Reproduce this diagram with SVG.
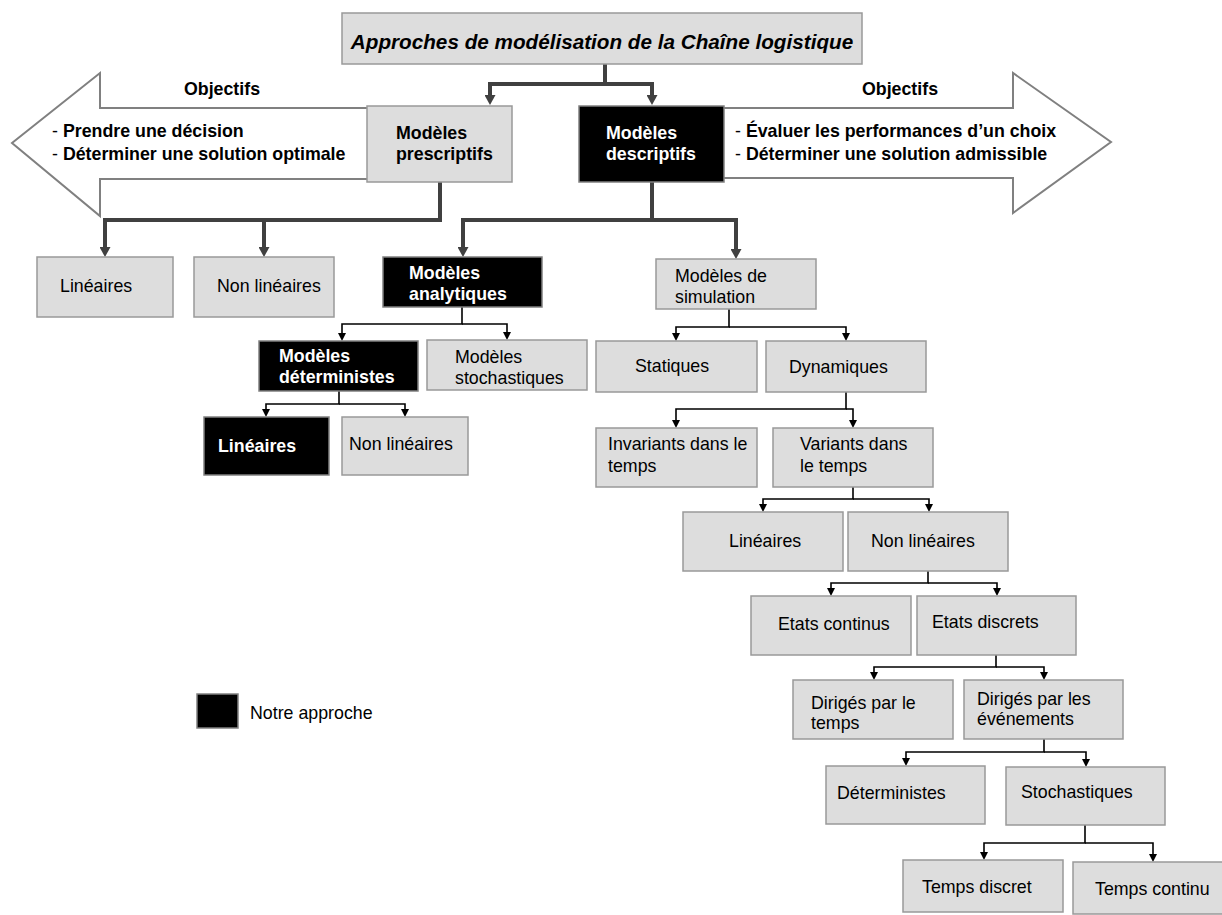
<svg xmlns="http://www.w3.org/2000/svg" width="1222" height="915" viewBox="0 0 1222 915">
<style>
text{font-family:"Liberation Sans",Arial,sans-serif;font-size:17.8px;fill:#000}
.b{font-weight:bold}
.t{font-weight:bold;font-style:italic;font-size:20.7px}
.w{fill:#fff;font-weight:bold}
.g{fill:#dddddd;stroke:#999999;stroke-width:1.5}
.k{fill:#000;stroke:#808080;stroke-width:1.5}
.big{fill:#fff;stroke:#808080;stroke-width:2}
.thick{fill:none;stroke:#404040;stroke-width:4;marker-end:url(#ah)}
.thin{fill:none;stroke:#000;stroke-width:1.6;marker-end:url(#as)}
</style>
<defs>
<marker id="ah" markerUnits="userSpaceOnUse" markerWidth="10" markerHeight="11" refX="0" refY="5" orient="auto" viewBox="0 0 10 10" preserveAspectRatio="none">
<path d="M0,0 L10,5 L0,10 Z" fill="#404040"/>
</marker>
<marker id="as" markerUnits="userSpaceOnUse" markerWidth="8" markerHeight="8" refX="0" refY="5" orient="auto" viewBox="0 0 10 10" preserveAspectRatio="none">
<path d="M0,0 L10,5 L0,10 Z" fill="#000"/>
</marker>
</defs>
<rect width="1222" height="915" fill="#fff"/>

<g id="arrow-left">
<polygon class="big" points="370,108 100,108 100,73 12,143 100,216 100,179 370,179"/>
<text class="b" x="222" y="95" text-anchor="middle">Objectifs</text>
<text x="52" y="137">- <tspan class="b">Prendre une décision</tspan></text>
<text x="52" y="160">- <tspan class="b">Déterminer une solution optimale</tspan></text>
</g>
<g id="arrow-right">
<polygon class="big" points="722,108 1013,108 1013,73 1111,142 1013,213 1013,178 722,178"/>
<text class="b" x="900" y="95" text-anchor="middle">Objectifs</text>
<text x="735" y="137">- <tspan class="b">Évaluer les performances d’un choix</tspan></text>
<text x="735" y="160">- <tspan class="b">Déterminer une solution admissible</tspan></text>
</g>

<g id="connectors">
<path class="thick" d="M605,64 V84 H490 V95"/>
<path class="thick" d="M605,84 H652 V95"/>
<path class="thick" d="M440,182 V220 H105 V247"/>
<path class="thick" d="M264,220 V247"/>
<path class="thick" d="M652,182 V220 H463 V247"/>
<path class="thick" d="M652,220 H736 V249"/>
<path class="thin" d="M462,307 V324 H342 V333"/>
<path class="thin" d="M462,324 H507 V332"/>
<path class="thin" d="M339,391 V404 H266 V409"/>
<path class="thin" d="M339,404 H405 V409"/>
<path class="thin" d="M729,309 V327 H676 V333"/>
<path class="thin" d="M729,327 H846 V333"/>
<path class="thin" d="M846,392 V409 H676 V420"/>
<path class="thin" d="M846,409 H853 V420"/>
<path class="thin" d="M853,487 V499 H763 V504"/>
<path class="thin" d="M853,499 H929 V504"/>
<path class="thin" d="M928,571 V583 H831 V588"/>
<path class="thin" d="M928,583 H997 V588"/>
<path class="thin" d="M996,655 V667 H874 V672"/>
<path class="thin" d="M996,667 H1044 V672"/>
<path class="thin" d="M1044,739 V752 H906 V758"/>
<path class="thin" d="M1044,752 H1086 V759"/>
<path class="thin" d="M1085,825 V843 H984 V852"/>
<path class="thin" d="M1085,843 H1153 V854"/>
</g>

<g id="title"><rect class="g" x="342" y="13" width="520" height="51"/>
<text class="t" x="602" y="49" text-anchor="middle">Approches de modélisation de la Chaîne logistique</text></g>
<g id="prescriptifs"><rect class="g" x="367" y="106" width="145" height="76"/>
<text class="b" x="396" y="139">Modèles</text><text class="b" x="396" y="160">prescriptifs</text></g>
<g id="descriptifs"><rect class="k" x="579" y="106" width="145" height="76"/>
<text class="w" x="606" y="139">Modèles</text><text class="w" x="606" y="160">descriptifs</text></g>
<g id="p-lineaires"><rect class="g" x="37" y="257" width="136" height="60"/><text x="60" y="292">Linéaires</text></g>
<g id="p-nonlineaires"><rect class="g" x="194" y="257" width="140" height="60"/><text x="217" y="292">Non linéaires</text></g>
<g id="analytiques"><rect class="k" x="383" y="257" width="159" height="50"/>
<text class="w" x="409" y="279">Modèles</text><text class="w" x="409" y="300">analytiques</text></g>
<g id="simulation"><rect class="g" x="656" y="259" width="160" height="50"/>
<text x="675" y="282">Modèles de</text><text x="675" y="303">simulation</text></g>
<g id="deterministes-a"><rect class="k" x="259" y="341" width="159" height="50"/>
<text class="w" x="279" y="362">Modèles</text><text class="w" x="279" y="383">déterministes</text></g>
<g id="stochastiques-a"><rect class="g" x="427" y="340" width="160" height="50"/>
<text x="455" y="363">Modèles</text><text x="455" y="384">stochastiques</text></g>
<g id="a-lineaires"><rect class="k" x="204" y="417" width="125" height="58"/><text class="w" x="218" y="452">Linéaires</text></g>
<g id="a-nonlineaires"><rect class="g" x="342" y="417" width="126" height="58"/><text x="349" y="450">Non linéaires</text></g>
<g id="statiques"><rect class="g" x="596" y="341" width="161" height="51"/><text x="635" y="372">Statiques</text></g>
<g id="dynamiques"><rect class="g" x="766" y="341" width="160" height="51"/><text x="789" y="373">Dynamiques</text></g>
<g id="invariants"><rect class="g" x="596" y="428" width="161" height="59"/>
<text x="608" y="450">Invariants dans le</text><text x="608" y="472">temps</text></g>
<g id="variants"><rect class="g" x="773" y="428" width="160" height="59"/>
<text x="800" y="450">Variants dans</text><text x="800" y="472">le temps</text></g>
<g id="s-lineaires"><rect class="g" x="683" y="512" width="160" height="59"/><text x="729" y="547">Linéaires</text></g>
<g id="s-nonlineaires"><rect class="g" x="848" y="512" width="160" height="59"/><text x="871" y="547">Non linéaires</text></g>
<g id="continus"><rect class="g" x="751" y="596" width="160" height="59"/><text x="778" y="630">Etats continus</text></g>
<g id="discrets"><rect class="g" x="917" y="596" width="159" height="59"/><text x="932" y="628">Etats discrets</text></g>
<g id="dir-temps"><rect class="g" x="793" y="680" width="160" height="59"/>
<text x="811" y="709">Dirigés par le</text><text x="811" y="729">temps</text></g>
<g id="dir-evenements"><rect class="g" x="964" y="680" width="159" height="59"/>
<text x="977" y="705">Dirigés par les</text><text x="977" y="725">événements</text></g>
<g id="s-deterministes"><rect class="g" x="826" y="766" width="159" height="58"/><text x="837" y="799">Déterministes</text></g>
<g id="s-stochastiques"><rect class="g" x="1006" y="767" width="159" height="58"/><text x="1021" y="798">Stochastiques</text></g>
<g id="temps-discret"><rect class="g" x="903" y="860" width="160" height="52"/><text x="922" y="893">Temps discret</text></g>
<g id="temps-continu"><rect class="g" x="1073" y="862" width="160" height="52"/><text x="1095" y="895">Temps continu</text></g>
<g id="legend"><rect class="k" x="197" y="694" width="41" height="34"/><text x="250" y="719">Notre approche</text></g>
</svg>
